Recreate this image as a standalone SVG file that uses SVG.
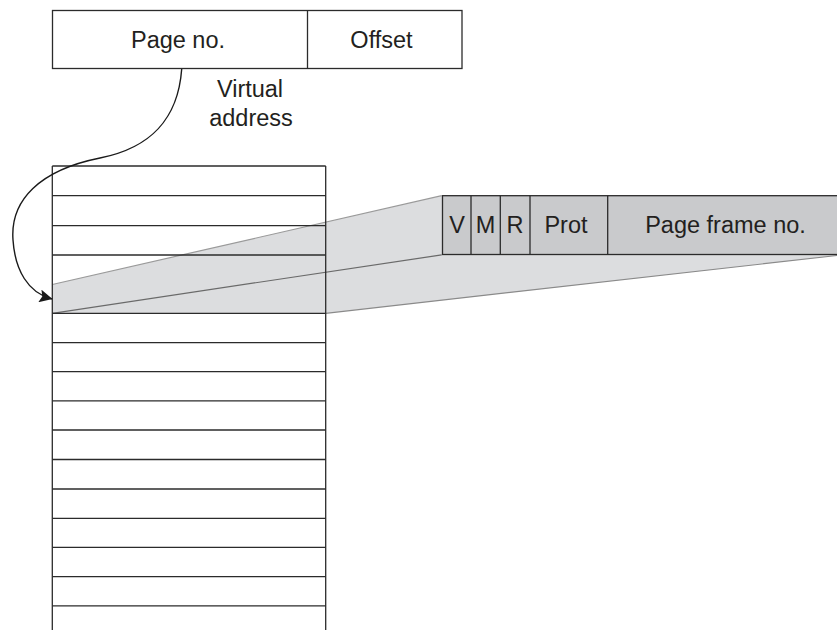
<svg xmlns="http://www.w3.org/2000/svg" width="837" height="630" viewBox="0 0 837 630">
  <defs>
    <style>
      .box { fill: #ffffff; stroke: #2b2b2b; stroke-width: 1.3; }
      .pte { fill: #c9cacc; stroke: #2b2b2b; stroke-width: 1.3; }
      .rule { stroke: #2b2b2b; stroke-width: 1.3; fill: none; }
      .lbl { font-family: "Liberation Sans", Arial, Helvetica, sans-serif; font-size: 23.5px; fill: #231f20; text-anchor: middle; }
      .edge { stroke: #1a1a1a; stroke-width: 1.4; fill: none; }
    </style>
    <marker id="arrow" viewBox="0 0 13 13" refX="12.5" refY="6.5" markerWidth="13" markerHeight="13" markerUnits="userSpaceOnUse" orient="auto">
      <path d="M0,0 L13,6.5 L0,13 L2.5,6.5 Z" fill="#1a1a1a"/>
    </marker>
  </defs>

  <rect x="0" y="0" width="837" height="630" fill="#ffffff"/>

  <!-- Virtual address -->
  <g id="virtual-address">
    <rect class="box" x="52.5" y="10.5" width="409.5" height="58"/>
    <line class="rule" x1="307.5" y1="10.5" x2="307.5" y2="68.5"/>
    <text class="lbl" x="178" y="48">Page no.</text>
    <text class="lbl" x="381.5" y="48">Offset</text>
    <text class="lbl" x="250" y="97">Virtual</text>
    <text class="lbl" x="251" y="126">address</text>
  </g>

  <!-- Page table -->
  <g id="page-table">
    <rect x="52.3" y="166" width="273.4" height="470" fill="#ffffff"/>
  </g>

  <!-- Projection of the selected entry -->
  <g id="projection">
    <polygon points="52.3,284.5 441.7,195.7 837,195.7 837,255.5 325.7,313.3 52.3,313.3" fill="#dcdddf"/>
    <line x1="52.3" y1="284.5" x2="441.7" y2="195.7" stroke="#9a9a9a" stroke-width="1.2"/>
    <line x1="52.3" y1="313.3" x2="441.7" y2="254.8" stroke="#6a6a6a" stroke-width="1.2"/>
    <line x1="325.7" y1="313.3" x2="837" y2="255.5" stroke="#8a8a8a" stroke-width="1.2"/>
  </g>

  <g id="page-table-lines">
    <line class="rule" x1="52.3" y1="166" x2="52.3" y2="630"/>
    <line class="rule" x1="325.7" y1="166" x2="325.7" y2="630"/>
    <line class="rule" x1="52.3" y1="166" x2="325.7" y2="166"/>
    <line class="rule" x1="52.3" y1="195.6" x2="325.7" y2="195.6"/>
    <line class="rule" x1="52.3" y1="225.6" x2="325.7" y2="225.6"/>
    <line class="rule" x1="52.3" y1="255" x2="325.7" y2="255"/>
    <line class="rule" x1="52.3" y1="313.3" x2="325.7" y2="313.3"/>
    <line class="rule" x1="52.3" y1="342.6" x2="325.7" y2="342.6"/>
    <line class="rule" x1="52.3" y1="371.7" x2="325.7" y2="371.7"/>
    <line class="rule" x1="52.3" y1="400.8" x2="325.7" y2="400.8"/>
    <line class="rule" x1="52.3" y1="430" x2="325.7" y2="430"/>
    <line class="rule" x1="52.3" y1="459.5" x2="325.7" y2="459.5"/>
    <line class="rule" x1="52.3" y1="489" x2="325.7" y2="489"/>
    <line class="rule" x1="52.3" y1="518.3" x2="325.7" y2="518.3"/>
    <line class="rule" x1="52.3" y1="547.4" x2="325.7" y2="547.4"/>
    <line class="rule" x1="52.3" y1="576.7" x2="325.7" y2="576.7"/>
    <line class="rule" x1="52.3" y1="605.8" x2="325.7" y2="605.8"/>
  </g>

  <!-- Page table entry -->
  <g id="page-table-entry">
    <rect class="pte" x="442.5" y="195.7" width="400" height="58.8"/>
    <line class="rule" x1="471" y1="195.7" x2="471" y2="254.5"/>
    <line class="rule" x1="500.3" y1="195.7" x2="500.3" y2="254.5"/>
    <line class="rule" x1="530" y1="195.7" x2="530" y2="254.5"/>
    <line class="rule" x1="607.7" y1="195.7" x2="607.7" y2="254.5"/>
    <text class="lbl" x="457" y="232.5">V</text>
    <text class="lbl" x="485.5" y="232.5">M</text>
    <text class="lbl" x="515" y="232.5">R</text>
    <text class="lbl" x="566" y="232.5">Prot</text>
    <text class="lbl" x="725.5" y="232.5">Page frame no.</text>
  </g>

  <!-- Connectors -->
  <g id="connectors">
    <path class="edge" d="M181.7,69 C178,120 150,148 100,158 C40,170 10,200 13,240 C15,270 28,293 52,299" marker-end="url(#arrow)"/>
  </g>
</svg>
